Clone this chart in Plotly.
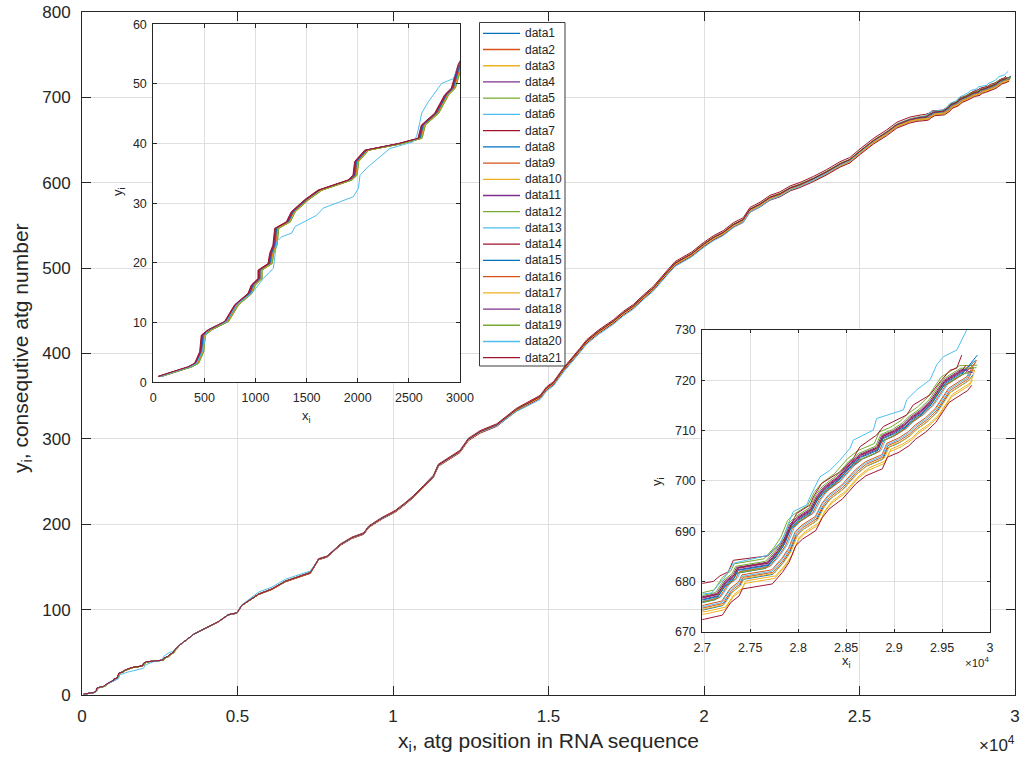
import numpy as np
import plotly.graph_objects as go

W, H = 1023, 760

NAMES = [f"data{i}" for i in range(1, 22)]
PALETTE = ['#0072BD', '#D95319', '#EDB120', '#7E2F8E', '#77AC30', '#4DBEEE', '#A2142F']
COLORS = [PALETTE[i % 7] for i in range(21)]

# ---- common path, start region ----
START_X = [65, 359, 424, 473, 489, 554, 717, 815, 946, 978, 1044, 1044, 1142, 1158, 1190, 1207,
           1321, 1370, 1500, 1630, 1924, 1973, 1989, 2087, 2413, 2609, 2641, 2772, 2870, 2935, 3000]
START_Y = [1, 2.6, 3.2, 5.1, 7.9, 8.8, 10.2, 13, 14.9, 16.3, 17.4, 18.8, 19.9, 21.6, 23, 25.8,
           26.9, 28.6, 30.6, 32.2, 33.9, 34.7, 37, 38.9, 40, 40.9, 43.1, 45.1, 48.2, 49.3, 53.2]

# ---- common path, middle region ----
MID_X = [3160, 3590, 3960, 4390, 4710, 4980, 5140, 5680, 6110, 6540, 6860, 7340, 7610, 7880, 8310,
         8680, 9060, 9220, 9650, 10070, 10390, 10650, 10980, 11300, 11460, 11730, 12150, 12420,
         12800, 13340, 13550, 13970, 14730, 14940, 15160, 15480, 16010, 16230, 16600, 17080, 17410,
         17730, 18050, 18370, 18800, 19070, 19600, 19980, 20300, 20620, 20940, 21260, 21480, 21800,
         22120, 22440, 22770, 23090, 23520, 23950, 24370, 24690, 25020, 25440, 25870, 26200, 26620,
         26850]
MID_Y = [59, 71, 78, 86, 94, 96, 105, 118, 124, 133, 137, 143, 159, 162, 176,
         184, 189, 197, 207, 215, 224, 232, 244, 256, 269, 275, 285, 299,
         308, 316, 322, 334, 349, 359, 365, 381, 404, 414, 425, 437, 447,
         455, 466, 476, 494, 505, 516, 527, 535, 541, 550, 556, 568, 574,
         582, 586, 593, 597, 604, 612, 621, 626, 636, 648, 658, 667, 673,
         675]

# ---- common path, end region ----
END_X = [27000, 27184, 27271, 27358, 27393, 27705, 27810, 27880, 27949, 28019, 28158, 28227, 28297,
         28436, 28575, 28680, 28853, 28905, 29027, 29131, 29200, 29305, 29409, 29548, 29687, 29739]
END_Y = [675.6, 676.4, 678.9, 680.2, 681.6, 682.6, 684.9, 686.9, 690.2, 691.5, 693.2, 695.8, 697.5,
         699.5, 702.5, 704.1, 705.5, 707.8, 708.8, 710.1, 711.4, 712.8, 714.7, 718.7, 720.4, 721.0]

# ---- per-series values ----
SHIFT_X = [0, 5, 10, -5, 20, 5, -20, 10, 0, 15, -5, 10, 5, 15, 0, 10, 15, -10, 20, 0, -15]
END_SHIFT = [-40, 20, 50, -20, -60, 10, 0, 30, -10, 60, -30, -50, 20, 25, -20, 30, 45, -35, -45, 0,
             -25]
OFFSET_Y = [0, -0.3, -2.0, 1.0, 1.9, 0.5, 4.0, -1.2, 0.3, -1.5, 0.7, 0.0, -0.6, -3.1, 0.6, -0.8,
            -1.0, 1.2, 1.4, 1.9, 1.1]
LAST_X = [29868, 29860, 29840, 29830, 29868, 29800, None, 29820, 29850, 29820, 29790, 29840, 29810,
          29809, 29850, 29830, 29800, 29820, 29860, None, 29750]
LAST_Y = [725, 724, 722, 722.5, 723, 721, None, 721, 723.5, 720, 723, 722, 722, 719, 724, 722.5,
          720.5, 721.5, 722.5, None, 723]

# data7: its own end path
D7_END_X = [27000, 27115, 27184, 27271, 27323, 27688, 27740, 27845, 27897, 27949, 27984, 28123,
            28158, 28245, 28436, 28575, 28645, 28818, 28888, 29131, 29200, 29375, 29479, 29583,
            29653, 29705]
D7_END_Y = [679.6, 680, 681.1, 681.9, 684.2, 685.1, 686.2, 688.2, 689.5, 692.2, 693.5, 695.2,
            696.8, 699.5, 701.8, 704.5, 706.8, 709.1, 710.8, 713.1, 715.1, 717.1, 719.7, 722,
            722.4, 725]

# data20: its own start path, middle deviations and end path
D20_START_X = [70, 359, 424, 478, 522, 587, 717, 815, 978, 1076, 1174, 1207, 1256, 1354, 1386,
               1598, 1663, 1957, 2006, 2022, 2087, 2315, 2543, 2576, 2609, 2625, 2690, 2821,
               2935, 3000]
D20_START_Y = [1, 2.6, 3.2, 5.1, 8.5, 9.3, 10.2, 13, 15.2, 17.4, 19.1, 23.6, 24.4, 25, 26.1,
               28, 29.2, 31.1, 32.5, 34.7, 35.9, 39.2, 40.3, 41.2, 43.7, 45.1, 47, 50.1,
               50.9, 53.7]
D20_DEV_X = [3000, 5000, 5500, 7300, 7600, 13000, 14500, 20500, 25000, 27000]
D20_DEV_Y = [0, 0, 2.5, 2.5, 0, 0, -3, -3, 0, 1.9]
D20_END_X = [27000, 27097, 27254, 27323, 27688, 27723, 27810, 27862, 27897, 27949, 28088, 28123,
             28227, 28331, 28436, 28540, 28575, 28783, 28818, 29097, 29131, 29236, 29375, 29445,
             29514, 29653, 29757, 29780]
D20_END_Y = [677.5, 677.7, 681.3, 683.6, 685.2, 685.9, 687.6, 689.5, 691.5, 693.9, 695.2, 696.8,
             700.8, 702.1, 704.1, 706.5, 708.1, 710.1, 712.4, 714.1, 716.1, 718.1, 720.1, 723.1,
             724.7, 726, 730, 730.5]

MAIN_XTICKS = [0, 5000, 10000, 15000, 20000, 25000, 30000]
MAIN_XTEXT = ['0', '0.5', '1', '1.5', '2', '2.5', '3']
IN2_XTICKS = [27000, 27500, 28000, 28500, 29000, 29500, 30000]
IN2_XTEXT = ['2.7', '2.75', '2.8', '2.85', '2.9', '2.95', '3']


def series(k):
    mx = np.array(MID_X, float)
    ramp = np.clip((mx - 3000.0) / 24000.0, 0, 1)
    my = np.array(MID_Y, float) + OFFSET_Y[k] * ramp
    if k == 19:
        sx = list(D20_START_X); sy = list(D20_START_Y)
        my = np.array(MID_Y, float) + np.interp(mx, D20_DEV_X, D20_DEV_Y)
        ex = list(D20_END_X); ey = list(D20_END_Y)
    else:
        sx = [v + SHIFT_X[k] for v in START_X]; sy = list(START_Y)
        if k == 6:
            ex = list(D7_END_X); ey = list(D7_END_Y)
        else:
            ex = [v + END_SHIFT[k] for v in END_X] + [LAST_X[k]]
            ey = [v + OFFSET_Y[k] for v in END_Y] + [LAST_Y[k]]
    return sx + list(mx) + ex, sy + list(my) + ey


fig = go.Figure()
for k in range(21):
    x, y = series(k)
    for xa, ya in (('x', 'y'), ('x2', 'y2'), ('x3', 'y3')):
        fig.add_trace(go.Scatter(x=x, y=y, mode='lines', name=NAMES[k], showlegend=False,
                                 line=dict(color=COLORS[k], width=1), xaxis=xa, yaxis=ya,
                                 hoverinfo='skip'))

FONT = 'Liberation Sans, Arial, Helvetica, sans-serif'
AX = '#262626'
GRID = '#dfdfdf'


def px(v):
    return v / W


def py(v):
    return 1 - v / H


def axis(domain, rng, anchor, ticklen, fsize, standoff, **kw):
    d = dict(domain=domain, range=rng, anchor=anchor, automargin=False,
             showgrid=True, gridcolor=GRID, gridwidth=1,
             zeroline=False, showline=True, linecolor=AX, linewidth=1, mirror='ticks',
             ticks='inside', ticklen=ticklen, tickcolor=AX, tickwidth=1,
             tickfont=dict(family=FONT, size=fsize, color=AX), ticklabelstandoff=standoff)
    d.update(kw)
    return d


layout = dict(
    template='none',
    width=W, height=H, autosize=False, margin=dict(l=0, r=0, t=0, b=0, pad=0),
    paper_bgcolor='white', plot_bgcolor='white', showlegend=False,
    xaxis=axis([px(82), px(1015)], [0, 30000], 'y', 9, 17, 6,
               tickvals=MAIN_XTICKS, ticktext=MAIN_XTEXT),
    yaxis=axis([py(695), py(12)], [0, 800], 'x', 9, 17, 7, dtick=100, tick0=0),
    xaxis2=axis([px(153.3), px(460)], [0, 3000], 'y2', 4, 12.5, 4, dtick=500, tick0=0),
    yaxis2=axis([py(382.3), py(24.3)], [0, 60], 'x2', 4, 12.5, 3, dtick=10, tick0=0),
    xaxis3=axis([px(702.3), px(990)], [27000, 30000], 'y3', 3, 12.5, 4,
                tickvals=IN2_XTICKS, ticktext=IN2_XTEXT),
    yaxis3=axis([py(631.7), py(330)], [670, 730], 'x3', 3, 12.5, 3, dtick=10, tick0=670),
)
fig.update_layout(**layout)

ann = []


def text(x, y, s, size, angle=0, xanchor='center', yanchor='middle'):
    ann.append(dict(x=px(x), y=py(y), xref='paper', yref='paper', text=s, showarrow=False,
                    textangle=angle, xanchor=xanchor, yanchor=yanchor,
                    font=dict(family=FONT, size=size, color=AX)))


text(548.5, 742, 'x<sub>i</sub>, atg position in RNA sequence', 21)
text(22, 348, 'y<sub>i</sub>, consequtive atg number', 21, angle=-90)
text(1017, 744, '×10<sup>4</sup>', 17, xanchor='right')
text(306, 416, 'x<sub>i</sub>', 13)
text(118, 192, 'y<sub>i</sub>', 13, angle=-90)
text(846, 661, 'x<sub>i</sub>', 13)
text(657, 482, 'y<sub>i</sub>', 13, angle=-90)
text(992, 662, '×10<sup>4</sup>', 11.5, xanchor='right')

shapes = [dict(type='rect', xref='paper', yref='paper', x0=px(479.5), x1=px(565), y0=py(366),
               y1=py(22.5), fillcolor='white', line=dict(color='#3c3c3c', width=1), layer='above')]
for i, (nm, c) in enumerate(zip(NAMES, COLORS)):
    yy = 33.3 + 16.22 * i
    shapes.append(dict(type='line', xref='paper', yref='paper', x0=px(483), x1=px(520),
                       y0=py(yy), y1=py(yy), line=dict(color=c, width=1.3), layer='above'))
    text(523, yy, nm, 12, xanchor='left')

fig.update_layout(annotations=ann, shapes=shapes)
fig.write_html('out.html')
